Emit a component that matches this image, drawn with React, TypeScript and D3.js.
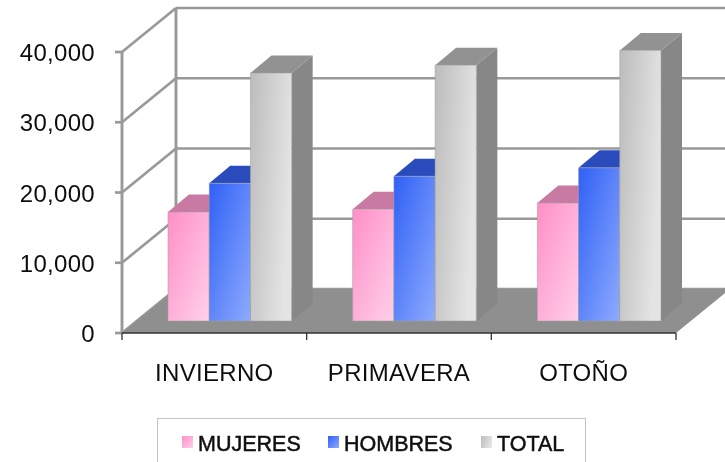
import React from "react";
import * as d3 from "d3";

const categories = ["INVIERNO", "PRIMAVERA", "OTOÑO"];
const seriesNames = ["MUJERES", "HOMBRES", "TOTAL"];
const mujeres = [15500, 15900, 16800];
const hombres = [19600, 20600, 21800];
const total = [35300, 36400, 38500];
const yTicks = [0, 10000, 20000, 30000, 40000];

const seriesValues = [mujeres, hombres, total];
const seriesIds = ["pink", "blue", "gray"];
const topColors = ["#c87aa2", "#2a4cbc", "#929292"];
const sideColors = ["#a8608a", "#2440a0", "#878787"];
const gridColor = "#999999";
const floorColor = "#8f8f8f";
const font = "'Liberation Sans', Arial, sans-serif";

const W = 725;
const H = 462;
const FRONT_LEFT = 122;
const FRONT_RIGHT = 676;
const FRONT_BASE = 333;
const FRONT_TOP = 52;
const WALL_DX = 54;
const WALL_DY = -44;
const BAR_SHIFT_X = 15.5;
const BAR_BASE = 321;
const BAR_DX = 21;
const BAR_DY = -17.5;

const y = d3.scaleLinear().domain([0, 40000]).range([FRONT_BASE, FRONT_TOP]);
const x0 = d3.scaleBand<string>().domain(categories).range([FRONT_LEFT, FRONT_RIGHT]);
const x1 = d3.scaleBand<string>().domain(seriesNames).range([0, x0.bandwidth()]).paddingOuter(0.74).paddingInner(0);

const poly = (pts: [number, number][]) => pts.map((p) => p.join(",")).join(" ");
const fmt = d3.format(",");

export default function App() {
    const barHeight = (v: number) => FRONT_BASE - y(v);

    return (
        <svg width={W} height={H} viewBox={`0 0 ${W} ${H}`} style={{ position: "absolute", left: 0, top: 0, background: "#fff" }}>
            <defs>
                <linearGradient id="grad-pink" x1="0" y1="0" x2="1" y2="1">
                    <stop offset="0%" stopColor="#ff8fc6" />
                    <stop offset="100%" stopColor="#ffd0ea" />
                </linearGradient>
                <linearGradient id="grad-blue" x1="0" y1="0" x2="1" y2="1">
                    <stop offset="0%" stopColor="#2f60f5" />
                    <stop offset="100%" stopColor="#8eabff" />
                </linearGradient>
                <linearGradient id="grad-gray" x1="0" y1="0" x2="1" y2="0.35">
                    <stop offset="0%" stopColor="#bcbcbc" />
                    <stop offset="100%" stopColor="#e4e4e4" />
                </linearGradient>
                <filter id="soft" x="-5%" y="-5%" width="110%" height="110%">
                    <feGaussianBlur stdDeviation="0.5" />
                </filter>
            </defs>

            <g filter="url(#soft)">
                {/* walls */}
                {yTicks.map((t) => (
                    <g key={t} stroke={gridColor} strokeWidth={2.7} fill="none">
                        <line x1={FRONT_LEFT} y1={y(t)} x2={FRONT_LEFT + WALL_DX} y2={y(t) + WALL_DY} />
                        <line x1={FRONT_LEFT + WALL_DX} y1={y(t) + WALL_DY} x2={W} y2={y(t) + WALL_DY} />
                        <line x1={FRONT_LEFT - 7} y1={y(t)} x2={FRONT_LEFT} y2={y(t)} />
                    </g>
                ))}
                <line x1={FRONT_LEFT} y1={y(0)} x2={FRONT_LEFT} y2={y(40000)} stroke={gridColor} strokeWidth={2.9} />
                <line x1={FRONT_LEFT + WALL_DX} y1={y(0) + WALL_DY} x2={FRONT_LEFT + WALL_DX} y2={y(40000) + WALL_DY} stroke={gridColor} strokeWidth={2.9} />

                {/* floor */}
                <polygon
                    fill={floorColor}
                    points={poly([
                        [FRONT_LEFT, FRONT_BASE],
                        [FRONT_LEFT + WALL_DX, FRONT_BASE + WALL_DY],
                        [FRONT_RIGHT + WALL_DX, FRONT_BASE + WALL_DY],
                        [FRONT_RIGHT, FRONT_BASE],
                    ])}
                />

                {/* bars */}
                {categories.map((c, ci) =>
                    seriesNames.map((s, si) => {
                        const left = x0(c)! + x1(s)! + BAR_SHIFT_X;
                        const right = left + x1.bandwidth();
                        const top = BAR_BASE - barHeight(seriesValues[si][ci]);
                        return (
                            <g key={c + s}>
                                <polygon
                                    fill={sideColors[si]}
                                    points={poly([
                                        [right, top],
                                        [right + BAR_DX, top + BAR_DY],
                                        [right + BAR_DX, BAR_BASE + BAR_DY],
                                        [right, BAR_BASE],
                                    ])}
                                />
                                <polygon
                                    fill={topColors[si]}
                                    points={poly([
                                        [left, top],
                                        [left + BAR_DX, top + BAR_DY],
                                        [right + BAR_DX, top + BAR_DY],
                                        [right, top],
                                    ])}
                                />
                                <rect
                                    x={left}
                                    y={top}
                                    width={x1.bandwidth()}
                                    height={BAR_BASE - top}
                                    fill={`url(#grad-${seriesIds[si]})`}
                                    stroke="#a0a0a0"
                                    strokeOpacity={0.55}
                                    strokeWidth={1}
                                />
                            </g>
                        );
                    })
                )}

                {/* x axis */}
                <line x1={FRONT_LEFT} y1={FRONT_BASE} x2={FRONT_RIGHT} y2={FRONT_BASE} stroke="#333" strokeWidth={1.4} />
                {[...categories.map((c) => x0(c)!), FRONT_RIGHT].map((tx) => (
                    <line key={tx} x1={tx} y1={FRONT_BASE} x2={tx} y2={FRONT_BASE + 7} stroke="#333" strokeWidth={1.3} />
                ))}

                {/* labels */}
                {yTicks.map((t) => (
                    <text key={t} x={95} y={y(t) + 9} textAnchor="end" fontFamily={font} fontSize={24} letterSpacing={0.3} fill="#111">
                        {fmt(t)}
                    </text>
                ))}
                {categories.map((c) => (
                    <text key={c} x={x0(c)! + x0.bandwidth() / 2} y={381} textAnchor="middle" fontFamily={font} fontSize={24} letterSpacing={0.3} fill="#111">
                        {c}
                    </text>
                ))}

                {/* legend */}
                <rect x={157.5} y={418.5} width={428} height={50} fill="#fff" stroke="#c4c4c4" />
                {seriesNames.map((s, i) => {
                    const swatchX = [182, 328, 481][i];
                    return (
                        <g key={s}>
                            <rect x={swatchX} y={436} width={11} height={12} fill={`url(#grad-${seriesIds[i]})`} />
                            <text x={swatchX + 16} y={451} fontFamily={font} fontSize={21.5} stroke="#111" strokeWidth={0.5} fill="#111">
                                {s}
                            </text>
                        </g>
                    );
                })}
            </g>
        </svg>
    );
}
